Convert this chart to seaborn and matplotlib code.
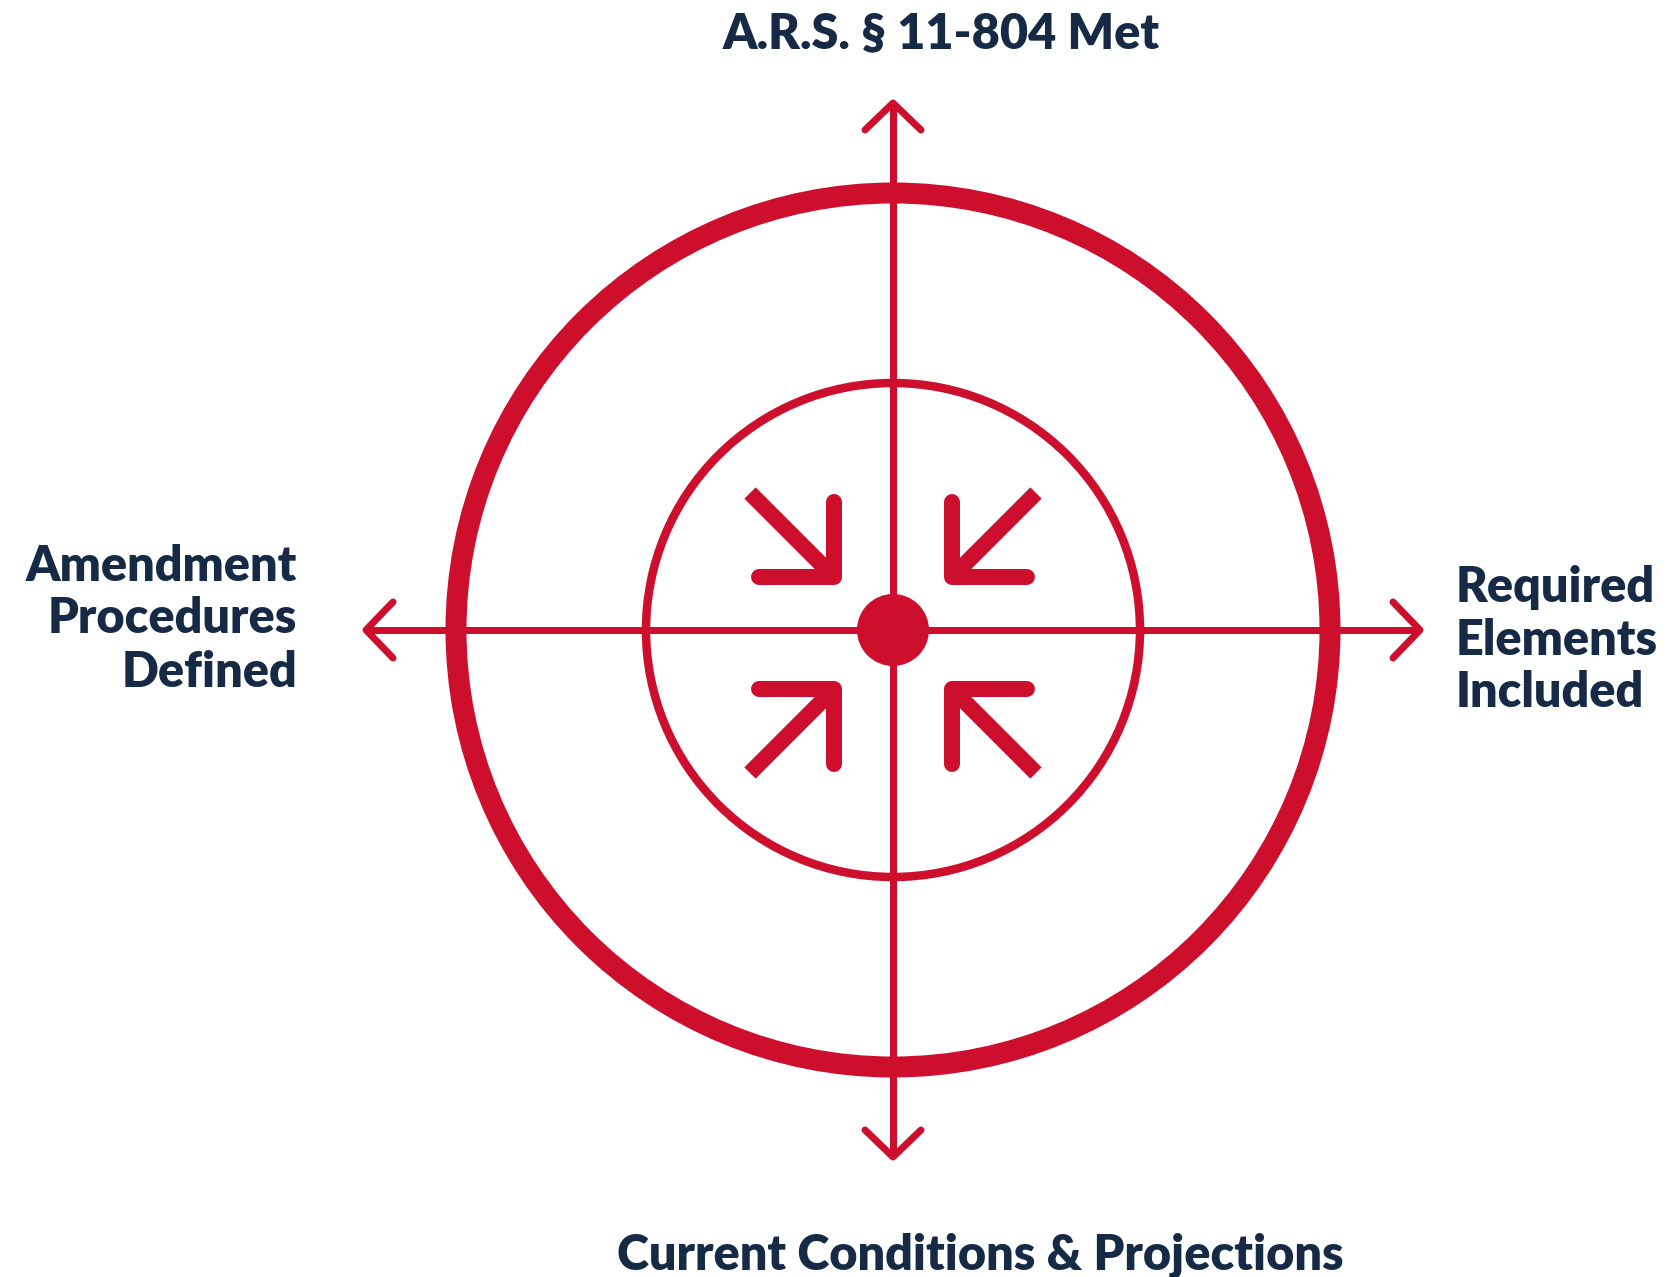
import matplotlib
matplotlib.use("Agg")
import matplotlib.pyplot as plt
from matplotlib.patches import Circle
import numpy as np
import pandas as pd
import seaborn as sns

# ---- content ----
title_top = ["A.R.S. § 11-804 Met"]
label_right = ["Required", "Elements", "Included"]
label_bottom = ["Current Conditions & Projections"]
label_left = ["Amendment", "Procedures", "Defined"]

# ---- geometry (pixel space of the 1669x1277 canvas) ----
W, H = 1669, 1277
cx, cy = 893, 630
ring_radii = [437, 247]
ring_widths_px = [21, 8.5]
axis_reach = 527          # centre to arrow tip
chevron = (27, 28)        # arm back / arm side of open arrowheads
dot_radius = 36
arrow_center_y = 633
arrow_corner = (59, 56)   # offset of inward arrow corners from centre
arrow_arm = 75
arrow_tail = 84

RED = "#CD0E2C"
NAVY = "#172A45"

sns.set_style("white")
plt.rcParams["font.family"] = ["Lato", "DejaVu Sans"]

fig = plt.figure(figsize=(W / 100, H / 100), dpi=100)
ax = fig.add_axes([0, 0, 1, 1])
ax.set_xlim(0, W)
ax.set_ylim(H, 0)
ax.axis("off")

def px(v):
    return v * 72 / 100

# crosshair lines
cross = pd.DataFrame({
    "x": [cx - axis_reach, cx + axis_reach, cx, cx],
    "y": [cy, cy, cy - axis_reach, cy + axis_reach],
    "seg": ["h", "h", "v", "v"],
})
for seg, d in cross.groupby("seg"):
    sns.lineplot(data=d, x="x", y="y", sort=False, estimator=None,
                 errorbar=None, ax=ax, color=RED,
                 linewidth=px(7), solid_capstyle="butt", legend=False)

# open chevron arrowheads at the four tips
back, side = chevron
for ux, uy in [(0, -1), (1, 0), (0, 1), (-1, 0)]:
    tx, ty = cx + ux * axis_reach, cy + uy * axis_reach
    vx, vy = -uy, ux
    xs = [tx - ux * back + vx * side, tx, tx - ux * back - vx * side]
    ys = [ty - uy * back + vy * side, ty, ty - uy * back - vy * side]
    ax.plot(xs, ys, color=RED, lw=px(7), solid_capstyle="round",
            solid_joinstyle="round")

# rings
for r, w in zip(ring_radii, ring_widths_px):
    ax.add_patch(Circle((cx, cy), r, fill=False, edgecolor=RED, lw=px(w)))

# centre dot
ax.add_patch(Circle((cx, cy), dot_radius, color=RED, lw=0, zorder=5))

# inward arrows
dxc, dyc = arrow_corner
for sx, sy in [(-1, -1), (1, -1), (-1, 1), (1, 1)]:
    kx, ky = cx + sx * dxc, arrow_center_y + sy * dyc
    hx = [kx + sx * arrow_arm, kx, kx]
    hy = [ky, ky, ky + sy * arrow_arm]
    ax.plot(hx, hy, color=RED, lw=px(16), solid_capstyle="round",
            solid_joinstyle="round")
    ax.plot([kx + sx * arrow_tail, kx], [ky + sy * arrow_tail, ky],
            color=RED, lw=px(16), solid_capstyle="butt")

# labels
fs = 35
tkw = dict(color=NAVY, fontsize=fs, fontweight="heavy", va="baseline")
ax.text(941, 48, title_top[0], ha="center", **tkw)
ax.text(980, 1269, label_bottom[0], ha="center", **tkw)
for line, yb in zip(label_left, [581, 633, 687]):
    ax.text(297, yb, line, ha="right", **tkw)
for line, yb in zip(label_right, [602, 655, 707]):
    ax.text(1456, yb, line, ha="left", **tkw)

fig.savefig("out.png", dpi=100, facecolor="white")
